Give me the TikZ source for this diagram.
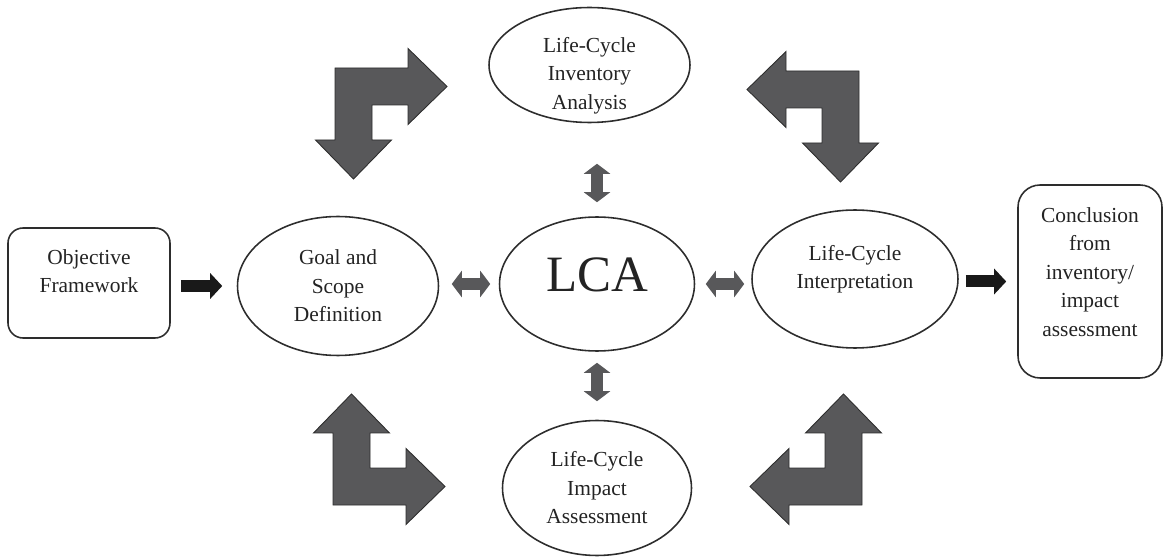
\documentclass[tikz,border=0pt]{standalone}
\usepackage{fontspec}
\setmainfont{Liberation Serif}
\usetikzlibrary{shapes.geometric,arrows.meta,calc}

\definecolor{arrowgray}{RGB}{88,88,90}
\definecolor{edgegray}{RGB}{45,45,45}
\definecolor{inkgray}{RGB}{35,35,35}

\tikzset{
  stage/.style={ellipse, draw=edgegray, line width=0.9pt, inner sep=0pt},
  boxnode/.style={rectangle, draw=edgegray, line width=0.9pt, inner sep=0pt},
  lbl/.style={align=center, inner sep=0pt, text=inkgray,
    font=\fontsize{12.2}{16.2}\selectfont},
  fat/.style={draw=black!90, line width=0.24cm,
    -{Triangle[length=0.24cm,width=0.5cm]}},
  twoway/.style={draw=arrowgray, line width=0.24cm,
    {Triangle[length=0.2cm,width=0.52cm]}-{Triangle[length=0.2cm,width=0.52cm]}},
  bigarrow/.style={fill=arrowgray, draw=edgegray, line width=0.5pt},
  bentarrow/.pic={
    \filldraw[bigarrow] (0,0) -- (73,0) -- (73,-19.5) -- (112,18.5) -- (73,56.5)
      -- (73,37) -- (37,37) -- (37,72) -- (56.5,72) -- (18.5,111)
      -- (-19.5,72) -- (0,72) -- cycle;
  }
}

\begin{document}
\begin{tikzpicture}[x=0.02cm, y=-0.02cm]
    \useasboundingbox (0,0) rectangle (1164,557);

    \node[stage, minimum width=4.02cm, minimum height=2.3cm] (inv) at (589.5,65) {};
    \node[stage, minimum width=3.9cm, minimum height=2.68cm] (lca) at (597,284) {};
    \node[stage, minimum width=4.02cm, minimum height=2.78cm] (goal) at (338,286) {};
    \node[stage, minimum width=4.12cm, minimum height=2.76cm] (interp) at (855,279) {};
    \node[stage, minimum width=3.78cm, minimum height=2.7cm] (impact) at (597,488) {};
    \node[boxnode, rounded corners=0.3cm, minimum width=3.24cm, minimum height=2.2cm] (obj) at (89,283) {};
    \node[boxnode, rounded corners=0.44cm, minimum width=2.88cm, minimum height=3.86cm] (concl) at (1090,281.5) {};

    \node[lbl] (inv-t) at ($(inv)+(0,10.5)$) {Life-Cycle\\Inventory\\Analysis};
    \node[lbl, font=\fontsize{29}{34}\selectfont] (lca-t) at ($(lca)+(0,-9.5)$) {LCA};
    \node[lbl] (goal-t) at (goal) {Goal and\\Scope\\Definition};
    \node[lbl] (interp-t) at ($(interp)+(0,-9.5)$) {Life-Cycle\\Interpretation};
    \node[lbl] (impact-t) at (impact) {Life-Cycle\\Impact\\Assessment};
    \node[lbl] (obj-t) at ($(obj)+(0,-12)$) {Objective\\Framework};
    \node[lbl] (concl-t) at ($(concl)+(0,-9.5)$) {Conclusion\\from\\inventory/\\impact\\assessment};

    \draw[fat, shorten <=0.2cm, shorten >=0.29cm] (goal.west -| obj.east) -- (goal.west);
    \draw[fat, shorten <=0.14cm, shorten >=0.22cm] (concl.west -| interp.east) -- (concl.west);

    \draw[twoway, shorten <=0.25cm, shorten >=0.17cm] (lca.west -| goal.east) -- (lca.west);
    \draw[twoway, shorten <=0.21cm, shorten >=0.14cm] (lca.east) -- (lca.east -| interp.west);
    \draw[twoway, shorten <=0.81cm, shorten >=0.28cm] (inv.south -| lca.north) -- (lca.north);
    \draw[twoway, shorten <=0.22cm, shorten >=0.37cm] (lca.south) -- (lca.south |- impact.north);

    \pic at (335,68) {bentarrow};
    \pic[xscale=-1] at (859,71) {bentarrow};
    \pic[yscale=-1] at (333,505) {bentarrow};
    \pic[xscale=-1, yscale=-1] at (862,505) {bentarrow};
\end{tikzpicture}
\end{document}
